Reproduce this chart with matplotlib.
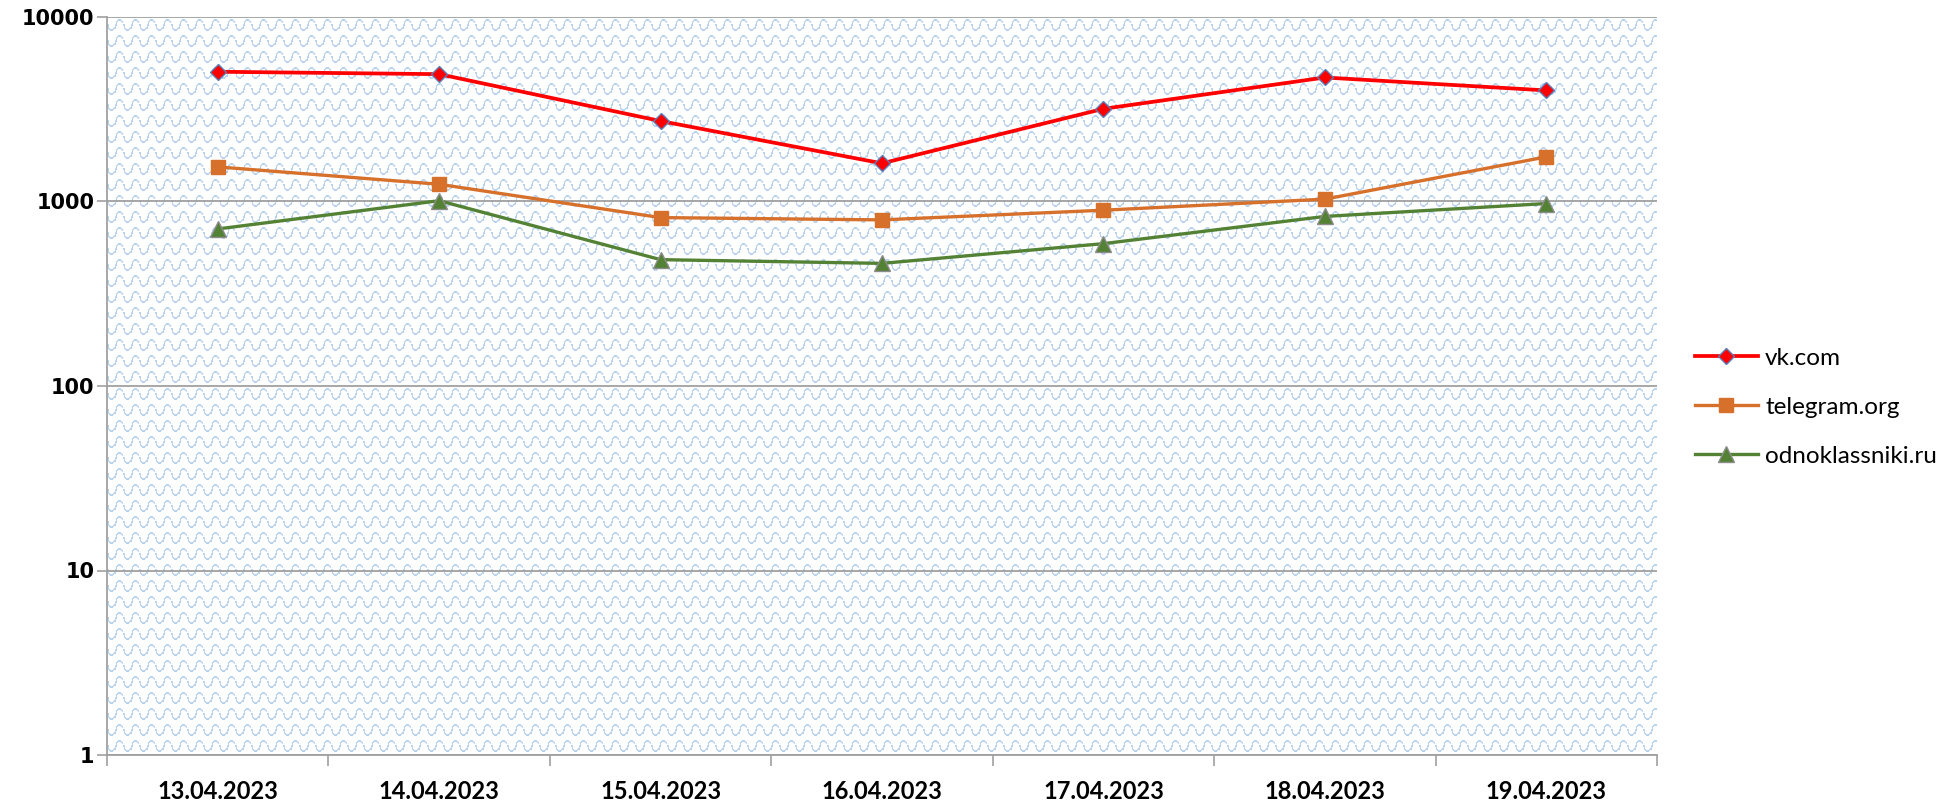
import numpy as np
import matplotlib
matplotlib.use("Agg")
import matplotlib.pyplot as plt

dates = ["13.04.2023", "14.04.2023", "15.04.2023", "16.04.2023",
         "17.04.2023", "18.04.2023", "19.04.2023"]
vk = [5050, 4900, 2730, 1610, 3180, 4700, 4000]
telegram = [1540, 1240, 818, 795, 897, 1030, 1745]
odnoklassniki = [710, 1010, 484, 462, 591, 830, 975]
y_ticks = [1, 10, 100, 1000, 10000]

W, H = 1939, 809
fig = plt.figure(figsize=(W / 100, H / 100), dpi=100)
left, right, top, bottom = 107, 1657, 17, 755
pos = [left / W, 1 - bottom / H, (right - left) / W, (bottom - top) / H]

# background wave pattern (decorative fill)
bg = fig.add_axes(pos, zorder=0)
pw, ph = right - left, bottom - top
tile = np.ones((16, 16, 3))
blue = np.array([186, 212, 240]) / 255.0
k = 1.6
prev = None
for xi in range(16):
    yv = 8 + 5 * np.tanh(k * np.sin(2 * np.pi * xi / 16)) / np.tanh(k)
    yi = int(round(yv))
    if prev is None:
        rng = [yi]
    else:
        lo, hi = sorted((prev, yi))
        rng = range(lo, hi + 1) if hi - lo > 1 else [yi]
    for yy in rng:
        tile[yy % 16, xi] = blue
        tile[(yy + 1) % 16, xi] = blue
    prev = yi
img = np.tile(tile, (ph // 16 + 2, pw // 16 + 2, 1))[:ph, :pw]
bg.imshow(img, aspect='auto', interpolation='nearest')
bg.axis('off')

ax = fig.add_axes(pos, zorder=1)
ax.set_facecolor('none')
x = np.arange(len(dates))

ax.plot(x, vk, color='#FF0000', lw=2.7, marker='D', ms=8.5,
        mfc='#FF0000', mec='#5B7DB8', mew=1.0, label='vk.com', zorder=5)
ax.plot(x, telegram, color='#D6702B', lw=2.4, marker='s', ms=10.5,
        mfc='#D6702B', mec='#D6702B', label='telegram.org', zorder=4)
ax.plot(x, odnoklassniki, color='#548235', lw=2.4, marker='^', ms=11,
        mfc='#548235', mec='#8C8C8C', mew=1.0, label='odnoklassniki.ru', zorder=3)

ax.set_yscale('log')
ax.set_ylim(1, 10000)
ax.set_xlim(-0.5, len(dates) - 0.5)
ax.set_yticks(y_ticks)
ax.set_yticklabels([str(v) for v in y_ticks], fontfamily='DejaVu Sans',
                   fontweight='heavy', fontsize=15)
ax.yaxis.set_minor_locator(matplotlib.ticker.NullLocator())
ax.tick_params(axis='y', direction='out', length=7, width=1.2, color='#A0A0A0', pad=2)
ax.grid(axis='y', color='#A0A0A0', lw=1.3, zorder=1)

ax.set_xticks(np.arange(-0.5, len(dates), 1.0))
ax.set_xticklabels([])
ax.set_xticks(x, minor=True)
ax.set_xticklabels(dates, minor=True, fontfamily='Lato', fontweight='bold', fontsize=17)
ax.tick_params(axis='x', which='major', direction='out', length=8, width=1.2, color='#A0A0A0')
ax.tick_params(axis='x', which='minor', length=0, pad=18)

for s in ['top', 'right']:
    ax.spines[s].set_visible(False)
for s in ['left', 'bottom']:
    ax.spines[s].set_color('#A0A0A0')
    ax.spines[s].set_linewidth(1.3)

leg = fig.legend(loc='upper left', bbox_to_anchor=(1685 / W, 1 - 338 / H),
                 frameon=False, prop={'family': 'Lato', 'size': 17.5},
                 handlelength=2.6, handletextpad=0.3, labelspacing=1.15,
                 borderaxespad=0)

fig.savefig('out.png', dpi=100)
